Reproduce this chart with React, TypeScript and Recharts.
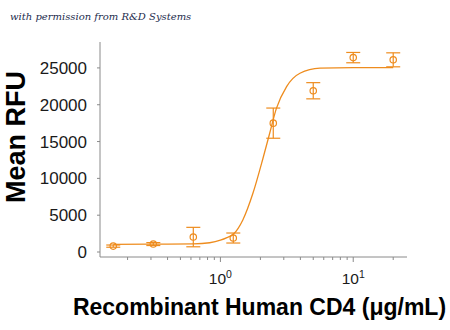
import React from 'react';
import { ComposedChart, Line, Scatter, XAxis, YAxis, ErrorBar } from 'recharts';

// Measured data (concentration in µg/mL, mean RFU, error)
const concentrations = [0.156, 0.3125, 0.625, 1.25, 2.5, 5, 10, 20];
const meanRFU = [800, 1080, 2030, 1900, 17500, 21900, 26400, 26100];
const errorRFU = [150, 200, 1320, 680, 2050, 1100, 700, 950];

// Fitted curve
const fitX = [0.156, 0.3125, 0.625, 0.83, 1.0, 1.12, 1.25, 1.475, 1.757, 2.09, 2.35, 2.64, 3.15, 3.97, 5.62, 10, 20];
const fitY = [1050, 1060, 1100, 1260, 1600, 1950, 2400, 4350, 7970, 12700, 16130, 19500, 22460, 24280, 24960, 25040, 25040];

const xTicks = [0.2, 0.3, 0.4, 0.5, 0.6, 0.7, 0.8, 0.9, 1, 2, 3, 4, 5, 6, 7, 8, 9, 10, 20];
const majorTicks = [1, 10];
const yTicks = [0, 5000, 10000, 15000, 20000, 25000];

const ORANGE = '#EE8C1E';
const AXIS = '#8a8a8a';
const TEXT = '#1a1a1a';
const FONT = '"Liberation Sans", Arial, sans-serif';

const points = concentrations.map((x, i) => ({ x, y: meanRFU[i], err: errorRFU[i] }));
const curve = fitX.map((x, i) => ({ x, y: fitY[i] }));

const XTick = (props: any) => {
  const { x, y, payload } = props;
  const v = payload.value;
  const major = majorTicks.includes(v);
  const exp = Math.round(Math.log10(v));
  return (
    <g>
      <line x1={x} x2={x} y1={y} y2={y + (major ? 5 : 3)} stroke={AXIS} strokeWidth={1} />
      {major && (
        <text x={x} y={y + 27.4} textAnchor="middle" fontFamily={FONT} fontSize={15.5} fill={TEXT}>
          10
          <tspan dy={-6.5} fontSize={10.5}>{exp}</tspan>
        </text>
      )}
    </g>
  );
};

const Dot = (p: any) => (
  <circle cx={p.cx} cy={p.cy} r={3.2} fill="none" stroke={ORANGE} strokeWidth={1.2} />
);

export default function App() {
  return (
    <div style={{ position: 'absolute', left: 0, top: 0, width: 450, height: 330, background: '#fff' }}>
      <ComposedChart width={450} height={330} margin={{ top: 42, right: 43, bottom: 0, left: 0 }}>
        <XAxis
          dataKey="x"
          type="number"
          scale="log"
          domain={[0.124, 25.4]}
          allowDataOverflow
          ticks={xTicks}
          interval={0}
          height={73}
          tickLine={false}
          tickSize={0}
          tickMargin={0}
          axisLine={{ stroke: AXIS, strokeWidth: 1 }}
          tick={<XTick />}
          label={{
            content: () => (
              <text x={259.5} y={315} textAnchor="middle" fontFamily={FONT} fontWeight="bold" fontSize={23} fill="#000">
                Recombinant Human CD4 (μg/mL)
              </text>
            ),
          }}
        />
        <YAxis
          dataKey="y"
          type="number"
          domain={[-677, 28520]}
          allowDataOverflow
          ticks={yTicks}
          interval={0}
          width={100}
          tickSize={3}
          tickMargin={10}
          tickLine={{ stroke: AXIS }}
          axisLine={{ stroke: AXIS, strokeWidth: 1 }}
          tick={{ fontFamily: FONT, fontSize: 17, fill: TEXT }}
          label={{
            content: () => (
              <text
                x={25}
                y={137}
                transform="rotate(-90 25 137)"
                textAnchor="middle"
                fontFamily={FONT}
                fontWeight="bold"
                fontSize={27}
                fill="#000"
              >
                Mean RFU
              </text>
            ),
          }}
        />
        <Line
          data={curve}
          dataKey="y"
          type="monotone"
          stroke={ORANGE}
          strokeWidth={1.3}
          dot={false}
          activeDot={false}
          isAnimationActive={false}
        />
        <Scatter data={points} dataKey="y" shape={<Dot />} isAnimationActive={false}>
          <ErrorBar dataKey="err" direction="y" width={7} stroke={ORANGE} strokeWidth={1.2} />
        </Scatter>
      </ComposedChart>
      <svg width={450} height={30} style={{ position: 'absolute', left: 0, top: 0 }}>
        <text x={10} y={19.5} fontFamily='"DejaVu Serif", serif' fontStyle="italic" fontSize={10} fill="#1c2b4d">
          with permission from R&amp;D Systems
        </text>
      </svg>
    </div>
  );
}
